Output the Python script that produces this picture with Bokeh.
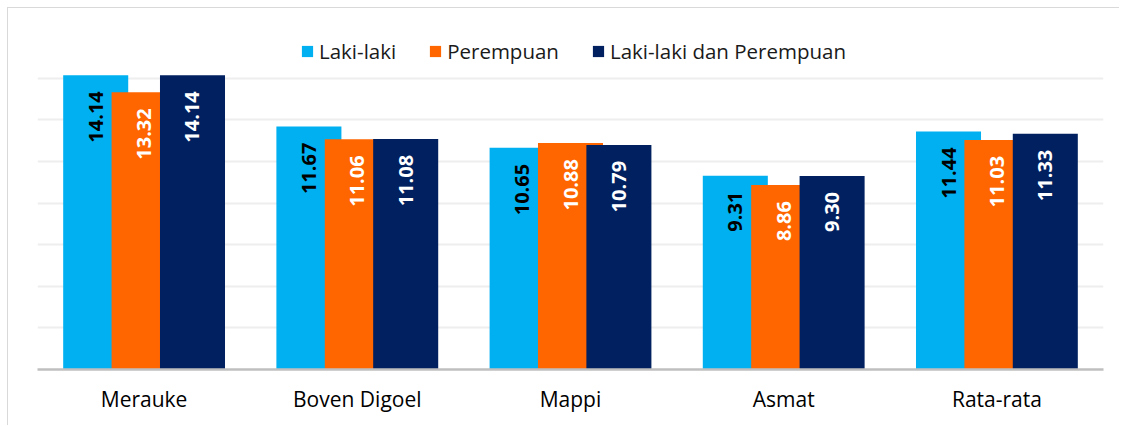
import math
from bokeh.plotting import figure
from bokeh.models import (ColumnDataSource, FactorRange, Range1d, SingleIntervalTicker,
                          Legend, LegendItem, InlineStyleSheet)
from bokeh.transform import dodge
from bokeh.core.properties import value
from bokeh.embed import file_html
from bokeh.resources import INLINE

categories = ["Merauke", "Boven Digoel", "Mappi", "Asmat", "Rata-rata"]
series_names = ["Laki-laki", "Perempuan", "Laki-laki dan Perempuan"]
laki = [14.14, 11.67, 10.65, 9.31, 11.44]
perempuan = [13.32, 11.06, 10.88, 8.86, 11.03]
gabungan = [14.14, 11.08, 10.79, 9.30, 11.33]

colors = ["#00B0F0", "#FF6600", "#002060"]
label_colors = ["#000000", "#FFFFFF", "#FFFFFF"]
offsets = [-0.227, 0.0, 0.227]
series_values = [laki, perempuan, gabungan]

FONT = "Open Sans"

p = figure(
    x_range=FactorRange(*categories, range_padding=0),
    y_range=Range1d(0, 16),
    width=1112, height=418,
    output_backend="svg", toolbar_location=None,
    min_border_left=29, min_border_right=17, min_border_top=28, min_border_bottom=57,
)
p.stylesheets = [InlineStyleSheet(css=(
    ":host { margin-left: 7px; margin-top: 7px; "
    "border-top: 1.5px solid #d9d9d9; border-left: 1.5px solid #d9d9d9; }"))]
p.outline_line_color = None
p.background_fill_color = "white"
p.border_fill_color = "white"

p.yaxis.visible = False
p.xgrid.grid_line_color = None
p.ygrid.ticker = SingleIntervalTicker(interval=2)
p.ygrid.grid_line_color = "#EEEEEE"
p.ygrid.grid_line_width = 2

xa = p.xaxis[0]
xa.axis_line_color = "#BFBFBF"
xa.axis_line_width = 2.5
xa.major_tick_line_color = None
xa.minor_tick_line_color = None
xa.major_label_text_font = FONT
xa.major_label_text_font_size = "21px"
xa.major_label_text_color = "#000000"
xa.major_label_standoff = 9

items = []
for name, vals, col, lcol, off in zip(series_names, series_values, colors, label_colors, offsets):
    src = ColumnDataSource(dict(cat=categories, val=vals,
                                lab=[f"{v:.2f}" for v in vals]))
    r = p.vbar(x=dodge("cat", off, range=p.x_range), top="val", width=0.305,
               source=src, fill_color=col, line_color=None)
    items.append((name, r, src, lcol, off))

for name, r, src, lcol, off in items:
    p.text(x=dodge("cat", off, range=p.x_range), y="val", text="lab", source=src,
           angle=math.pi / 2, text_align="right", text_baseline="middle",
           y_offset=16, text_color=lcol, text_font=value(FONT),
           text_font_size="20px", text_font_style="bold")

legend = Legend(
    items=[LegendItem(label=n, renderers=[r]) for n, r, *_ in items],
    orientation="horizontal", location=(263, 304),
    glyph_width=14, glyph_height=14, label_standoff=5, spacing=32,
    padding=0, margin=0,
    label_text_font=FONT, label_text_font_size="20.5px", label_text_color="#1a1a1a",
    background_fill_alpha=0, border_line_color=None,
)
p.add_layout(legend, "center")

open("out.html", "w").write(file_html(p, INLINE))
